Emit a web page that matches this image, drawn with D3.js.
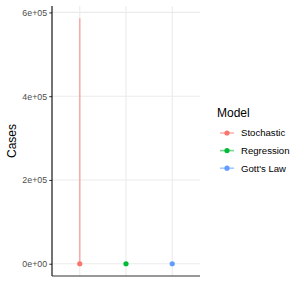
<!DOCTYPE html>
<html>
<head>
<meta charset="utf-8">
<script src="https://cdn.jsdelivr.net/npm/d3@7"></script>
<style>
  body { margin: 0; background: #fff; }
  text { font-family: "Liberation Sans", Arial, sans-serif; }
</style>
</head>
<body>
<div id="chart"></div>
<script>
// data
var models = ["Stochastic", "Regression", "Gott's Law"];
var estimates = [0, 0, 0];
var lowers = [0, 0, 0];
var uppers = [586000, 0, 0];
var colors = ["#F8766D", "#00BA38", "#619CFF"];
var yTicks = [0, 200000, 400000, 600000];
var yTickLabels = ["0e+00", "2e+05", "4e+05", "6e+05"];

var svgWidth = 300, svgHeight = 300;
var margin = { top: 6, right: 100, bottom: 24, left: 52 };
var width = svgWidth - margin.left - margin.right;
var height = svgHeight - margin.top - margin.bottom;

var svg = d3.select("#chart").append("svg")
    .attr("width", svgWidth)
    .attr("height", svgHeight);

var chartGroup = svg.append("g")
    .attr("transform", `translate(${margin.left}, ${margin.top})`);

// discrete x with ggplot style expansion (0.6 units each side)
var xScale = d3.scalePoint()
    .domain(models)
    .range([0, width])
    .padding(0.6);

var yMax = d3.max(uppers), yMin = d3.min(lowers);
var pad = (yMax - yMin) * 0.05;
var yScale = d3.scaleLinear()
    .domain([yMin - pad, yMax + pad])
    .range([height, 0]);

// grid
chartGroup.selectAll(".hgrid")
    .data(yTicks)
    .enter()
    .append("line")
    .attr("x1", 0).attr("x2", width)
    .attr("y1", d => yScale(d)).attr("y2", d => yScale(d))
    .attr("stroke", "#ebebeb").attr("stroke-width", 1.1);

chartGroup.selectAll(".vgrid")
    .data(models)
    .enter()
    .append("line")
    .attr("x1", d => xScale(d)).attr("x2", d => xScale(d))
    .attr("y1", 0).attr("y2", height)
    .attr("stroke", "#ebebeb").attr("stroke-width", 1.1);

// y axis
var leftAxis = d3.axisLeft(yScale)
    .tickValues(yTicks)
    .tickFormat((d, i) => yTickLabels[i])
    .tickSize(2.75)
    .tickPadding(2.2);

var yAxisG = chartGroup.append("g").call(leftAxis);
yAxisG.select(".domain").remove();
yAxisG.selectAll(".tick line").attr("stroke", "#333333");
yAxisG.selectAll(".tick text")
    .attr("fill", "#4d4d4d")
    .attr("font-size", "8.8px")
    .attr("font-family", "Liberation Sans, Arial, sans-serif");

// axis lines
chartGroup.append("line")
    .attr("x1", 0).attr("x2", 0)
    .attr("y1", 0).attr("y2", height)
    .attr("stroke", "#000").attr("stroke-width", 1.1);

chartGroup.append("line")
    .attr("x1", 0).attr("x2", width)
    .attr("y1", height).attr("y2", height)
    .attr("stroke", "#333").attr("stroke-width", 1.1);

// ranges
chartGroup.selectAll(".range")
    .data(models)
    .enter()
    .append("line")
    .attr("x1", d => xScale(d)).attr("x2", d => xScale(d))
    .attr("y1", (d, i) => yScale(lowers[i]))
    .attr("y2", (d, i) => yScale(uppers[i]))
    .attr("stroke", (d, i) => colors[i])
    .attr("stroke-opacity", 0.55)
    .attr("stroke-width", 1.6);

// points
chartGroup.selectAll(".pt")
    .data(models)
    .enter()
    .append("circle")
    .attr("cx", d => xScale(d))
    .attr("cy", (d, i) => yScale(estimates[i]))
    .attr("r", 2.6)
    .attr("fill", (d, i) => colors[i]);

// y axis label
svg.append("text")
    .attr("transform", `translate(16, ${margin.top + height / 2}) rotate(-90)`)
    .attr("text-anchor", "middle")
    .attr("font-size", "12px")
    .attr("fill", "#000")
    .text("Cases");

// legend
var legend = svg.append("g").attr("transform", "translate(217, 0)");
legend.append("text")
    .attr("x", 0).attr("y", 117)
    .attr("font-size", "12px")
    .text("Model");

var items = legend.selectAll(".item")
    .data(models)
    .enter()
    .append("g")
    .attr("transform", (d, i) => `translate(0, ${133 + i * 17.6})`);

items.append("line")
    .attr("x1", 3).attr("x2", 17)
    .attr("stroke", (d, i) => colors[i])
    .attr("stroke-opacity", 0.55)
    .attr("stroke-width", 1.6);

items.append("circle")
    .attr("cx", 10).attr("cy", 0).attr("r", 2.6)
    .attr("fill", (d, i) => colors[i]);

items.append("text")
    .attr("x", 24).attr("y", 3.3)
    .attr("font-size", "9.6px")
    .text(d => d);
</script>
</body>
</html>
